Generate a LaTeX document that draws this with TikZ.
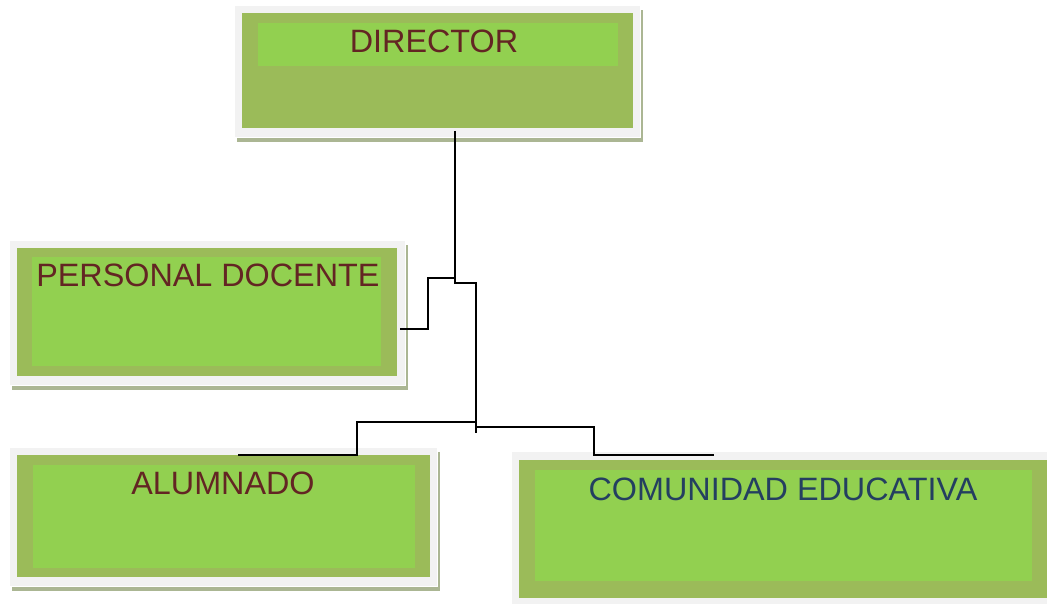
\documentclass[tikz,border=0pt]{standalone}
\usepackage{fontspec}
\setmainfont{Liberation Sans}
\usepackage{tikz}
\usetikzlibrary{positioning, calc, shadows}
\usepackage{xcolor}

\definecolor{paper}{HTML}{F2F2F2}
\definecolor{olive}{HTML}{9BBB59}
\definecolor{lime}{HTML}{92D050}
\definecolor{shade}{HTML}{ABB693}
\definecolor{maroon}{HTML}{632523}
\definecolor{navy}{HTML}{243F60}

\tikzset{
    outerbox/.style={fill=paper, draw=white, line width=0.4pt, inner sep=0pt, anchor=north west,
        general shadow={fill=shade, draw=none, shadow xshift=0.075cm, shadow yshift=-0.11cm}},
    flatbox/.style={fill=paper, draw=none, inner sep=0pt, anchor=north west},
    olivebox/.style={fill=olive, draw=none, inner sep=0pt, anchor=north west},
    limebox/.style={fill=lime, draw=none, inner sep=0pt, anchor=north west},
    title/.style={inner sep=0pt, font=\fontsize{23}{27}\selectfont, text=maroon},
    link/.style={line width=1.1pt, black}
}

\begin{document}
\begin{tikzpicture}[x=0.025cm, y=-0.025cm]
    \useasboundingbox[fill=white] (0, 0) rectangle (1047, 604);

    \node[outerbox, minimum width=10.15cm, minimum height=3.3cm] (dir) at (234, 5) {};
    \node[olivebox, minimum width=9.775cm, minimum height=2.875cm] (dirolive) at (242, 13) {};
    \node[limebox, minimum width=9cm, minimum height=1.075cm] (dirlime) at (258, 23) {};
    \node[title] (dirtext) at (434, 41) {DIRECTOR};

    \node[outerbox, minimum width=9.9cm, minimum height=3.625cm] (pd) at (9, 240) {};
    \node[olivebox, minimum width=9.5cm, minimum height=3.2cm] (pdolive) at (17, 248) {};
    \node[limebox, minimum width=8.725cm, minimum height=2.725cm] (pdlime) at (32, 257) {};
    \node[title, anchor=west] (pdtext) at (36, 275) {PERSONAL DOCENTE};

    \node[outerbox, minimum width=10.7cm, minimum height=3.475cm] (alu) at (9, 447) {};
    \node[olivebox, minimum width=10.325cm, minimum height=3.05cm] (aluolive) at (17, 455) {};
    \node[limebox, minimum width=9.55cm, minimum height=2.575cm] (alulime) at (33, 465) {};
    \node[title] (alutext) at (223, 483) {ALUMNADO};

    \node[flatbox, minimum width=13.5cm, minimum height=4cm] (com) at (512, 452) {};
    \node[olivebox, minimum width=13.2cm, minimum height=3.45cm] (comolive) at (519, 460) {};
    \node[limebox, minimum width=12.425cm, minimum height=2.775cm] (comlime) at (535, 470) {};
    \node[title, text=navy] (comtext) at (783, 489) {COMUNIDAD EDUCATIVA};

    \coordinate (dirout) at (455, 131);
    \coordinate (pdin) at (400, 329);
    \coordinate (aluin) at (238, 455);
    \coordinate (comin) at (714, 455);
    \coordinate (stem) at (476, 433);

    \draw[link] (dirout) -- (455, 283) -- (476, 283) -- (stem);
    \draw[link] (455, 278) -- (428, 278) |- (pdin);
    \draw[link] (476, 422) -- (357, 422) |- (aluin);
    \draw[link] (476, 427) -- (594, 427) |- (comin);

\end{tikzpicture}
\end{document}
